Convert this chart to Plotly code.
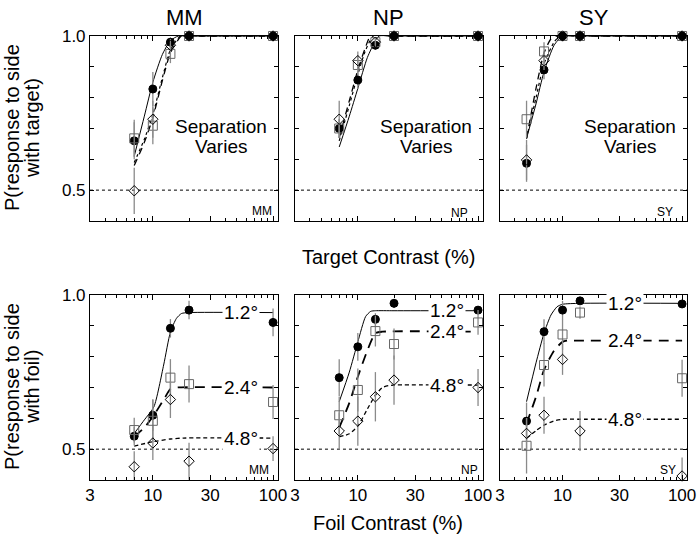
import math
import plotly.graph_objects as go
from plotly.subplots import make_subplots

subjects = ["MM", "NP", "SY"]
sep_labels = ["1.2°", "2.4°", "4.8°"]

# ---------------- Top row: target contrast (%) ----------------
top_x_MM = [7, 10, 14, 20, 100]
top_x_NP = [7, 10, 14, 20, 100]
top_x_SY = [5, 7, 10, 14, 100]

top_MM_12 = [0.660, 0.828, 0.980, 1.0, 1.0]
top_MM_24 = [0.668, 0.709, 0.942, 1.0, 1.0]
top_MM_48 = [0.498, 0.730, 0.970, 1.0, 1.0]
top_MM_12_err = [0.06, 0.055, 0.015, 0, 0]
top_MM_24_err = [0.06, 0.06, 0.03, 0, 0]
top_MM_48_err = [0.075, 0.06, 0.02, 0, 0]

top_NP_12 = [0.700, 0.857, 0.970, 1.0, 1.0]
top_NP_24 = [0.700, 0.906, 0.980, 1.0, 1.0]
top_NP_48 = [0.730, 0.920, 0.980, 1.0, 1.0]
top_NP_12_err = [0.03, 0.03, 0.015, 0, 0]
top_NP_24_err = [0.03, 0.03, 0.015, 0, 0]
top_NP_48_err = [0.06, 0.03, 0.01, 0, 0]

top_SY_12 = [0.587, 0.890, 1.0, 1.0, 1.0]
top_SY_24 = [0.730, 0.950, 1.0, 1.0, 1.0]
top_SY_48 = [0.598, 0.920, 1.0, 1.0, 1.0]
top_SY_12_err = [0.06, 0.03, 0, 0, 0]
top_SY_24_err = [0.06, 0.03, 0, 0, 0]
top_SY_48_err = [0.065, 0.03, 0, 0, 0]

# fitted curves, top row
fit_top_MM_x12 = [7, 8.5, 10, 12, 14, 16.3, 20, 100]
fit_top_MM_12 = [0.61, 0.74, 0.85, 0.94, 0.985, 1.0, 1.0, 1.0]
fit_top_MM_x24 = [7, 8.5, 10, 12, 14, 17.3, 20, 100]
fit_top_MM_24 = [0.58, 0.655, 0.735, 0.855, 0.945, 1.0, 1.0, 1.0]
fit_top_MM_x48 = [7, 8.5, 10, 12, 14, 17.0, 20, 100]
fit_top_MM_48 = [0.59, 0.665, 0.745, 0.865, 0.955, 1.0, 1.0, 1.0]

fit_top_NP_x12 = [7, 8.5, 10, 12, 14, 15, 20, 100]
fit_top_NP_12 = [0.64, 0.74, 0.83, 0.93, 0.985, 1.0, 1.0, 1.0]
fit_top_NP_x24 = [7, 8.5, 10, 11.5, 12.8, 20, 100]
fit_top_NP_24 = [0.67, 0.79, 0.89, 0.96, 1.0, 1.0, 1.0]
fit_top_NP_x48 = [7, 8.5, 10, 11.5, 13.5, 20, 100]
fit_top_NP_48 = [0.66, 0.775, 0.875, 0.95, 1.0, 1.0, 1.0]

fit_top_SY_x12 = [5, 6, 7, 8.5, 10, 14, 100]
fit_top_SY_12 = [0.668, 0.78, 0.884, 0.97, 1.0, 1.0, 1.0]
fit_top_SY_x24 = [5, 6, 7, 8, 9, 14, 100]
fit_top_SY_24 = [0.668, 0.83, 0.945, 0.99, 1.0, 1.0, 1.0]
fit_top_SY_x48 = [5, 6, 7, 8.5, 9.5, 14, 100]
fit_top_SY_48 = [0.668, 0.80, 0.91, 0.98, 1.0, 1.0, 1.0]

# ---------------- Bottom row: foil contrast (%) ----------------
bot_x_MM = [7, 10, 14, 20, 100]
bot_x_NP = [7, 10, 14, 20, 100]
bot_x_SY = [5, 7, 10, 14, 100]

bot_MM_12 = [0.542, 0.610, 0.892, 0.951, 0.911]
bot_MM_24 = [0.562, 0.592, 0.732, 0.711, 0.653]
bot_MM_48 = [0.443, 0.520, 0.661, 0.461, 0.502]
bot_MM_12_err = [0.03, 0.05, 0.03, 0.03, 0.045]
bot_MM_24_err = [0.04, 0.07, 0.06, 0.06, 0.055]
bot_MM_48_err = [0.05, 0.055, 0.06, 0.06, 0.04]

bot_NP_12 = [0.732, 0.832, 0.921, 0.973, 0.951]
bot_NP_24 = [0.610, 0.692, 0.883, 0.841, 0.911]
bot_NP_48 = [0.559, 0.591, 0.670, 0.724, 0.700]
bot_NP_12_err = [0.06, 0.045, 0.02, 0.015, 0.01]
bot_NP_24_err = [0.06, 0.07, 0.05, 0.05, 0.04]
bot_NP_48_err = [0.06, 0.08, 0.08, 0.08, 0.06]

bot_SY_12 = [0.591, 0.881, 0.951, 0.981, 0.971]
bot_SY_24 = [0.511, 0.773, 0.872, 0.943, 0.730]
bot_SY_48 = [0.551, 0.610, 0.791, 0.559, 0.413]
bot_SY_12_err = [0.06, 0.04, 0.03, 0.01, 0.01]
bot_SY_24_err = [0.09, 0.07, 0.05, 0.02, 0.06]
bot_SY_48_err = [0.05, 0.06, 0.05, 0.065, 0.06]

# fitted curves, bottom row
fit_bot_MM_x12 = [7, 8.5, 10.2, 12.3, 14, 15.7, 17.3, 20, 100]
fit_bot_MM_12 = [0.551, 0.595, 0.637, 0.773, 0.88, 0.924, 0.94, 0.943, 0.943]
fit_bot_MM_x24 = [7, 8.5, 10, 12.5, 14, 16, 100]
fit_bot_MM_24 = [0.54, 0.57, 0.605, 0.665, 0.695, 0.70, 0.70]
fit_bot_MM_x48 = [7, 10, 14, 18, 100]
fit_bot_MM_48 = [0.51, 0.524, 0.533, 0.536, 0.536]

fit_bot_NP_x12 = [7, 8.5, 10, 11.6, 12.8, 14, 20, 100]
fit_bot_NP_12 = [0.654, 0.75, 0.848, 0.93, 0.947, 0.949, 0.949, 0.949]
fit_bot_NP_x24 = [7, 8.5, 10, 12, 14, 16, 100]
fit_bot_NP_24 = [0.57, 0.65, 0.735, 0.82, 0.876, 0.881, 0.881]
fit_bot_NP_x48 = [7, 8.5, 10, 12, 14, 16, 18, 20, 100]
fit_bot_NP_48 = [0.54, 0.55, 0.575, 0.63, 0.675, 0.70, 0.706, 0.708, 0.708]

fit_bot_SY_x12 = [5, 6, 7, 8, 9, 10, 14, 100]
fit_bot_SY_12 = [0.654, 0.78, 0.876, 0.935, 0.962, 0.97, 0.973, 0.973]
fit_bot_SY_x24 = [5, 6, 7, 8.5, 10, 11, 14, 100]
fit_bot_SY_24 = [0.583, 0.67, 0.757, 0.82, 0.848, 0.852, 0.852, 0.852]
fit_bot_SY_x48 = [5, 6, 7, 8.5, 10, 14, 100]
fit_bot_SY_48 = [0.535, 0.56, 0.578, 0.592, 0.597, 0.597, 0.597]

# separation-label x positions (contrast %) in bottom panels
label_x = {"MM": 53.6, "NP": 54.7, "SY": 33.0}

x_major = [3, 10, 30, 100]
x_minor = [4, 5, 6, 7, 8, 9, 20, 40, 50, 60, 70, 80, 90]
y_ticks = [0.4, 0.5, 0.6, 0.7, 0.8, 0.9, 1.0]

# ---------------- figure ----------------
fig = make_subplots(rows=2, cols=3)

FONT = "Liberation Sans, Arial, Helvetica, sans-serif"
line_styles = [
    dict(color="black", width=1.0, dash="solid"),
    dict(color="black", width=1.3, dash="7px,5px"),
    dict(color="black", width=1.2, dash="3px,3px"),
]
line_styles_bot = [
    dict(color="black", width=1.0, dash="solid"),
    dict(color="black", width=1.8, dash="10px,7px"),
    dict(color="black", width=1.3, dash="4px,3px"),
]
markers = [
    dict(symbol="circle", size=8, color="black", line=dict(color="black", width=1)),
    dict(symbol="square-open", size=9, color="#666666", line=dict(color="#666666", width=1)),
    dict(symbol="diamond-open", size=8, color="black", line=dict(color="black", width=1)),
]

top = {
    "MM": (top_x_MM, [top_MM_12, top_MM_24, top_MM_48], [top_MM_12_err, top_MM_24_err, top_MM_48_err],
           [(fit_top_MM_x12, fit_top_MM_12), (fit_top_MM_x24, fit_top_MM_24), (fit_top_MM_x48, fit_top_MM_48)]),
    "NP": (top_x_NP, [top_NP_12, top_NP_24, top_NP_48], [top_NP_12_err, top_NP_24_err, top_NP_48_err],
           [(fit_top_NP_x12, fit_top_NP_12), (fit_top_NP_x24, fit_top_NP_24), (fit_top_NP_x48, fit_top_NP_48)]),
    "SY": (top_x_SY, [top_SY_12, top_SY_24, top_SY_48], [top_SY_12_err, top_SY_24_err, top_SY_48_err],
           [(fit_top_SY_x12, fit_top_SY_12), (fit_top_SY_x24, fit_top_SY_24), (fit_top_SY_x48, fit_top_SY_48)]),
}
bot = {
    "MM": (bot_x_MM, [bot_MM_12, bot_MM_24, bot_MM_48], [bot_MM_12_err, bot_MM_24_err, bot_MM_48_err],
           [(fit_bot_MM_x12, fit_bot_MM_12), (fit_bot_MM_x24, fit_bot_MM_24), (fit_bot_MM_x48, fit_bot_MM_48)]),
    "NP": (bot_x_NP, [bot_NP_12, bot_NP_24, bot_NP_48], [bot_NP_12_err, bot_NP_24_err, bot_NP_48_err],
           [(fit_bot_NP_x12, fit_bot_NP_12), (fit_bot_NP_x24, fit_bot_NP_24), (fit_bot_NP_x48, fit_bot_NP_48)]),
    "SY": (bot_x_SY, [bot_SY_12, bot_SY_24, bot_SY_48], [bot_SY_12_err, bot_SY_24_err, bot_SY_48_err],
           [(fit_bot_SY_x12, fit_bot_SY_12), (fit_bot_SY_x24, fit_bot_SY_24), (fit_bot_SY_x48, fit_bot_SY_48)]),
}

for row, data, styles in [(1, top, line_styles), (2, bot, line_styles_bot)]:
    for ci, s in enumerate(subjects):
        xs, ys, errs, fits = data[s]
        for k in range(3):
            fx, fy = fits[k]
            fig.add_trace(go.Scatter(x=fx, y=fy, mode="lines", line=dict(shape="spline", smoothing=0.6, **styles[k]),
                                     showlegend=False, hoverinfo="skip"), row=row, col=ci + 1)
        for k in range(3):
            fig.add_trace(go.Scatter(
                x=xs, y=ys[k], mode="markers", marker=markers[k],
                error_y=dict(type="data", array=errs[k], color="#8a8a8a", thickness=1.3, width=0),
                showlegend=False, cliponaxis=False), row=row, col=ci + 1)

x_domains = [[0.1291, 0.3989], [0.4232, 0.6930], [0.7174, 0.9857]]
y_domains = {1: [0.5923, 0.9336], 2: [0.1144, 0.4557]}

for row in (1, 2):
    for ci in range(3):
        idx = (row - 1) * 3 + ci + 1
        xa = "xaxis" if idx == 1 else f"xaxis{idx}"
        ya = "yaxis" if idx == 1 else f"yaxis{idx}"
        fig.update_layout(**{
            xa: dict(
                type="log", range=[math.log10(3), math.log10(110)], domain=x_domains[ci],
                tickmode="array", tickvals=x_major,
                ticktext=[str(v) for v in x_major] if row == 2 else ["" for _ in x_major],
                showticklabels=(row == 2),
                ticks="inside", ticklen=5, tickcolor="black", tickwidth=1,
                minor=dict(tickmode="array", tickvals=x_minor, ticks="inside", ticklen=3, tickcolor="black"),
                showline=True, linecolor="black", linewidth=1, mirror="allticks",
                showgrid=False, zeroline=False, automargin=False,
                tickfont=dict(family=FONT, size=17, color="black"),
            ),
            ya: dict(
                range=[0.4, 1.0], domain=y_domains[row],
                tickmode="array", tickvals=y_ticks,
                ticktext=["", "0.5", "", "", "", "", "1.0"] if ci == 0 else ["" for _ in y_ticks],
                showticklabels=(ci == 0),
                ticks="inside", ticklen=4, tickcolor="black", tickwidth=1,
                showline=True, linecolor="black", linewidth=1, mirror="allticks",
                showgrid=False, zeroline=False, automargin=False,
                tickfont=dict(family=FONT, size=17, color="black"),
            ),
        })
        xr = "x" if idx == 1 else f"x{idx}"
        yr = "y" if idx == 1 else f"y{idx}"
        # dotted chance line
        fig.add_shape(type="line", xref=f"{xr} domain", yref=yr, x0=0, x1=1, y0=0.5, y1=0.5,
                      line=dict(color="black", width=1, dash="dot"), layer="below")

annotations = []
# column titles
for ci, s in enumerate(subjects):
    annotations.append(dict(text=s, xref="paper", yref="paper",
                            x=sum(x_domains[ci]) / 2, y=1 - 17 / 542, showarrow=False,
                            font=dict(family=FONT, size=22, color="black"), xanchor="center", yanchor="middle"))

# corner subject labels
corner_pos = {
    (1, 0): (0.979, 0.055), (1, 1): (0.93, 0.045), (1, 2): (0.935, 0.05),
    (2, 0): (0.96, 0.054), (2, 1): (0.984, 0.054), (2, 2): (0.95, 0.054),
}
for (row, ci), (cx, cy) in corner_pos.items():
    idx = (row - 1) * 3 + ci + 1
    xr = "x" if idx == 1 else f"x{idx}"
    yr = "y" if idx == 1 else f"y{idx}"
    annotations.append(dict(text=subjects[ci], xref=f"{xr} domain", yref=f"{yr} domain", x=cx, y=cy,
                            xanchor="right", yanchor="middle", showarrow=False,
                            font=dict(family=FONT, size=12, color="black")))

# "Separation Varies" in top row
for ci in range(3):
    idx = ci + 1
    xr = "x" if idx == 1 else f"x{idx}"
    yr = "y" if idx == 1 else f"y{idx}"
    for word, yv in [("Separation", 0.705), ("Varies", 0.643)]:
        annotations.append(dict(text=word, xref=xr, yref=yr, x=1.565, y=yv, showarrow=False,
                                xanchor="center", yanchor="middle",
                                font=dict(family=FONT, size=19, color="black")))

# separation labels in bottom row (on the flat part of each fit)
for ci, s in enumerate(subjects):
    idx = 3 + ci + 1
    xr = f"x{idx}"
    yr = f"y{idx}"
    fits = bot[s][3]
    for k in range(3):
        annotations.append(dict(text=sep_labels[k], xref=xr, yref=yr, x=math.log10(label_x[s]), y=fits[k][1][-1],
                                showarrow=False, xanchor="center", yanchor="middle", bgcolor="white", borderpad=1,
                                font=dict(family=FONT, size=19, color="black")))

# axis titles
annotations.append(dict(text="Target Contrast (%)", xref="paper", yref="paper", x=388 / 697, y=1 - 257 / 542,
                        xanchor="center", yanchor="middle",
                        showarrow=False, font=dict(family=FONT, size=20, color="black")))
annotations.append(dict(text="Foil Contrast (%)", xref="paper", yref="paper", x=388 / 697, y=1 - 523 / 542,
                        xanchor="center", yanchor="middle",
                        showarrow=False, font=dict(family=FONT, size=20, color="black")))
for text, xpx, ypx in [("P(response to side", 12, 128), ("with target)", 32, 128),
                       ("P(response to side", 12, 387), ("with foil)", 32, 387)]:
    annotations.append(dict(text=text, xref="paper", yref="paper", x=xpx / 697, y=1 - ypx / 542,
                            xanchor="center", yanchor="middle", textangle=-90, showarrow=False,
                            font=dict(family=FONT, size=20, color="black")))

fig.update_layout(
    width=697, height=542, margin=dict(l=0, r=0, t=0, b=0, autoexpand=False),
    paper_bgcolor="white", plot_bgcolor="white",
    annotations=annotations, showlegend=False,
    font=dict(family=FONT, color="black"),
)

fig.write_html("out.html", config={"displayModeBar": False},
               post_script="document.body.style.margin='0px';document.body.style.overflow='hidden';")
